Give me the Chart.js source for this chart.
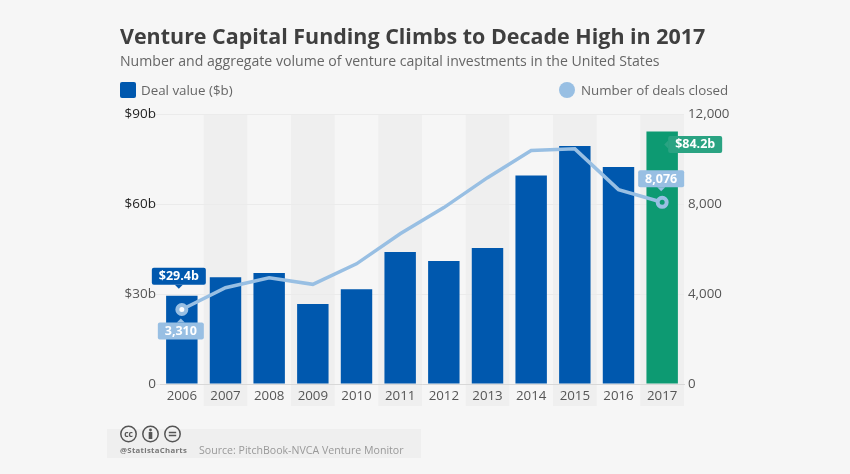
<!DOCTYPE html>
<html>
<head>
<meta charset="utf-8">
<script src="https://cdn.jsdelivr.net/npm/chart.js@4"></script>
<style>
html, body { margin: 0; padding: 0; background: #f6f6f6; }
body { width: 850px; height: 474px; position: relative; overflow: hidden; font-family: "Open Sans", sans-serif; }
#myChart { position: absolute; left: 0; top: 0; }
.txt { position: absolute; white-space: nowrap; }
#title { left: 120px; top: 21px; font-size: 21.46px; font-weight: 700; color: #3f3f3f; }
#subtitle { left: 120px; top: 51px; font-size: 14.1px; color: #666; }
.lg1 { left: 141px; top: 81px; font-size: 13.35px; color: #666; }
.lg2 { left: 581px; top: 81px; font-size: 13.35px; color: #666; }
.swatch { position: absolute; left: 120px; top: 82px; width: 16px; height: 16px; background: #0058ae; border-radius: 2px; }
.dot { position: absolute; left: 559px; top: 82px; width: 16px; height: 16px; background: #98bfe3; border-radius: 50%; }
#band { position: absolute; left: 107px; top: 429px; width: 314px; height: 29px; background: #efefef; }
#icons { position: absolute; left: 119px; top: 425px; }
#handle { left: 120px; top: 445px; font-size: 7.8px; font-weight: 700; color: #777; letter-spacing: .3px; }
#source { left: 199px; top: 443px; font-size: 10.6px; color: #999; }
</style>
</head>
<body>
<div id="band"></div>
<canvas id="myChart" width="850" height="474"></canvas>
<div class="txt" id="title">Venture Capital Funding Climbs to Decade High in 2017</div>
<div class="txt" id="subtitle">Number and aggregate volume of venture capital investments in the United States</div>
<div class="swatch"></div><div class="txt lg1">Deal value ($b)</div>
<div class="dot"></div><div class="txt lg2">Number of deals closed</div>
<svg id="icons" width="66" height="18" fill="none" stroke="#555" stroke-width="1.5">
  <circle cx="9.5" cy="9" r="7.7"/><circle cx="31.5" cy="9" r="7.7"/><circle cx="53.5" cy="9" r="7.7"/>
  <text x="9.5" y="12" font-size="8.5" font-weight="700" fill="#555" stroke="none" text-anchor="middle" font-family="Open Sans">cc</text>
  <circle cx="31.5" cy="5" r="1.4" fill="#555" stroke="none"/>
  <rect x="29.7" y="7" width="3.6" height="7" fill="#555" stroke="none"/>
  <path d="M49.8 7.5h7.4M49.8 10.5h7.4"/>
</svg>
<div class="txt" id="handle">@StatistaCharts</div>
<div class="txt" id="source">Source: PitchBook-NVCA Venture Monitor</div>
<script>
var years = ["2006", "2007", "2008", "2009", "2010", "2011", "2012", "2013", "2014", "2015", "2016", "2017"];
var dealValue = [29.4, 35.6, 37, 26.7, 31.6, 44, 41, 45.3, 69.5, 79.3, 72.3, 84.2];
var dealsClosed = [3310, 4280, 4720, 4430, 5340, 6680, 7840, 9170, 10380, 10450, 8640, 8076];
var valueTicks = [0, 30, 60, 90];
var dealTicks = [0, 4000, 8000, 12000];

var blue = '#0058ae', green = '#0d9a72', lightBlue = '#98bfe3';

function box(c, x, y, w, h, fill) {
    c.fillStyle = fill;
    c.beginPath();
    c.roundRect(x, y, w, h, 2);
    c.fill();
}

function callout(c, text, cx, cy, w, fill, side) {
    // cx,cy is the tip of the little arrow
    var h = 17, bx, by;
    c.fillStyle = fill;
    c.beginPath();
    if (side == 'above') {
        bx = cx - w / 2; by = cy - 4 - h;
        c.moveTo(cx - 4, cy - 4); c.lineTo(cx, cy); c.lineTo(cx + 4, cy - 4);
    } else if (side == 'below') {
        bx = cx - w / 2; by = cy + 4;
        c.moveTo(cx - 4, cy + 4); c.lineTo(cx, cy); c.lineTo(cx + 4, cy + 4);
    } else {
        bx = cx + 4; by = cy - h / 2;
        c.moveTo(cx + 4, cy - 4); c.lineTo(cx, cy); c.lineTo(cx + 4, cy + 4);
    }
    c.fill();
    box(c, bx, by, w, h, fill);
    c.fillStyle = '#fff';
    c.font = '700 12.5px "Open Sans"';
    c.textAlign = 'center';
    c.textBaseline = 'middle';
    c.fillText(text, bx + w / 2, by + h / 2 + 0.5);
}

var stripes = {
    id: 'stripes',
    beforeDraw: function (chart) {
        var c = chart.ctx, x = chart.scales.x, a = chart.chartArea;
        var step = x.getPixelForValue(1) - x.getPixelForValue(0);
        c.save();
        c.fillStyle = '#efefef';
        years.forEach(function (y, i) {
            if (i % 2 == 1) c.fillRect(x.getPixelForValue(i) - step / 2, a.top, step, a.bottom - a.top + 22);
        });
        c.restore();
    }
};

var callouts = {
    id: 'callouts',
    afterDatasetsDraw: function (chart) {
        var c = chart.ctx;
        var bars = chart.getDatasetMeta(0).data, pts = chart.getDatasetMeta(1).data;
        var last = years.length - 1;
        c.save();
        callout(c, '$' + dealValue[0] + 'b', bars[0].x - 3, bars[0].y - 7, 54, blue, 'above');
        callout(c, dealsClosed[0].toLocaleString('en-US'), pts[0].x - 1, pts[0].y + 9, 46, lightBlue, 'below');
        callout(c, dealsClosed[last].toLocaleString('en-US'), pts[last].x - 1, pts[last].y - 11, 46, lightBlue, 'above');
        callout(c, '$' + dealValue[last] + 'b', bars[last].x + 2, bars[last].y + 13, 54, '#2aa382', 'left');
        c.restore();
    }
};

var barColors = years.map(function (y, i) { return i == years.length - 1 ? green : blue; });
var pointR = years.map(function (y, i) { return (i == 0 || i == years.length - 1) ? 4.5 : 0; });
var pointFill = years.map(function (y, i) { return i == years.length - 1 ? green : '#fff'; });

new Chart(document.getElementById("myChart"), {
    type: 'bar',
    data: {
        labels: years,
        datasets: [
            { type: 'bar', data: dealValue, backgroundColor: barColors, yAxisID: 'y', barPercentage: 0.72, categoryPercentage: 1, order: 2 },
            { type: 'line', data: dealsClosed, yAxisID: 'y2', borderColor: lightBlue, borderWidth: 3.5, tension: 0,
              pointRadius: pointR, pointBorderWidth: 4, pointBorderColor: lightBlue, pointBackgroundColor: pointFill, order: 1 }
        ]
    },
    options: {
        responsive: false,
        animation: false,
        layout: { padding: { left: 0, right: 0, top: 114, bottom: 0 } },
        plugins: { legend: { display: false }, tooltip: { enabled: false } },
        scales: {
            x: {
                grid: { display: false, drawTicks: false },
                border: { color: '#d8d8d8' },
                ticks: { color: '#555', font: { family: 'Open Sans', size: 13.3 }, padding: 4, maxRotation: 0 },
                afterFit: function (s) { s.height = 90; }
            },
            y: {
                min: 0, max: 90,
                afterBuildTicks: function (s) { s.ticks = valueTicks.map(function (v) { return { value: v }; }); },
                grid: { color: '#ebebeb', tickLength: 4 },
                border: { display: false },
                ticks: {
                    padding: 0,
                    color: function (t) { return t.tick.value >= 60 ? '#222' : '#555'; },
                    font: { family: 'Open Sans', size: 13.5 },
                    callback: function (v) { return v == 0 ? '0' : '$' + v + 'b'; }
                },
                afterFit: function (s) { s.width = 160; }
            },
            y2: {
                position: 'right',
                min: 0, max: 12000,
                afterBuildTicks: function (s) { s.ticks = dealTicks.map(function (v) { return { value: v }; }); },
                grid: { display: false, drawTicks: false },
                border: { display: false },
                ticks: {
                    padding: 4,
                    color: '#555',
                    font: { family: 'Open Sans', size: 13.3 },
                    callback: function (v) { return v.toLocaleString('en-US'); }
                },
                afterFit: function (s) { s.width = 166; }
            }
        }
    },
    plugins: [stripes, callouts]
});
</script>
</body>
</html>
